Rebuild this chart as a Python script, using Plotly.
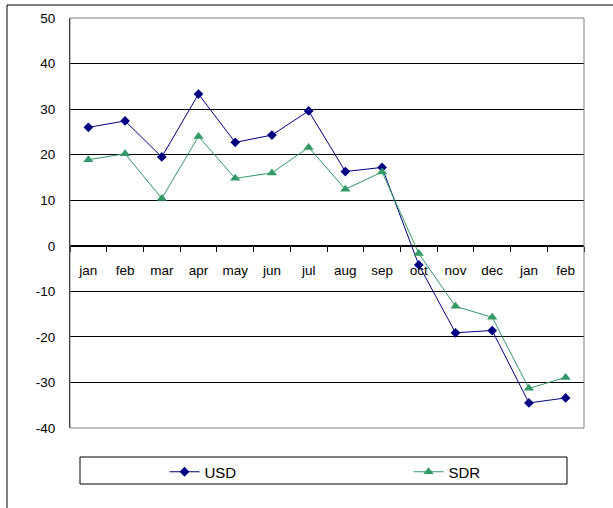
import plotly.graph_objects as go

# Monthly change (%), two reference currencies
months = ["jan", "feb", "mar", "apr", "may", "jun", "jul", "aug", "sep", "oct", "nov", "dec", "jan", "feb"]
usd = [26.0, 27.4, 19.5, 33.3, 22.7, 24.3, 29.6, 16.3, 17.2, -4.2, -19.1, -18.6, -34.5, -33.4]
sdr = [18.9, 20.2, 10.4, 24.0, 14.8, 16.0, 21.6, 12.4, 16.2, -1.7, -13.3, -15.7, -31.3, -28.9]
y_ticks = [-40, -30, -20, -10, 0, 10, 20, 30, 40, 50]
y_tick_labels = ["-40", "-30", "-20", "-10", "0", "10", "20", "30", "40", "50"]

positions = list(range(len(months)))
FONT = "Liberation Sans, Arial, sans-serif"

fig = go.Figure()
fig.add_trace(go.Scatter(
    x=positions, y=usd, name="USD", mode="lines+markers",
    line=dict(color="#000080", width=1),
    marker=dict(symbol="diamond", size=7.5, color="#000080"),
    legend="legend",
))
fig.add_trace(go.Scatter(
    x=positions, y=sdr, name="SDR", mode="lines+markers",
    line=dict(color="#339966", width=1),
    marker=dict(symbol="triangle-up", size=9, color="#339966"),
    legend="legend2",
))

W, H = 613, 508
ml, mr, mt, mb = 70, 29, 18, 80
pw, ph = W - ml - mr, H - mt - mb


def px_x(x):
    return (x - ml) / pw


def px_y(y):
    return (H - mb - y) / ph


fig.update_layout(
    width=W, height=H,
    margin=dict(l=ml, r=mr, t=mt, b=mb),
    paper_bgcolor="white", plot_bgcolor="white",
    font=dict(family=FONT, size=13.5, color="black"),
    showlegend=True,
    xaxis=dict(
        type="category", range=[-0.5, len(months) - 0.5],
        tickvals=positions, ticktext=months,
        tickson="boundaries", ticks="outside", ticklen=5, tickcolor="black",
        ticklabelstandoff=12,
        showline=True, linecolor="black", linewidth=1,
        showgrid=False, zeroline=False,
        anchor="free", position=40 / 90,
    ),
    yaxis=dict(
        range=[-40, 50], tickmode="array", tickvals=y_ticks, ticktext=y_tick_labels,
        ticks="", ticklabelstandoff=11,
        showline=True, linecolor="black", linewidth=1,
        showgrid=True, gridcolor="black", gridwidth=1,
        zeroline=False,
    ),
    legend=dict(
        orientation="h", x=px_x(164.5), xanchor="left", y=px_y(472), yanchor="middle",
        bgcolor="rgba(0,0,0,0)", borderwidth=0, font=dict(size=15),
    ),
    legend2=dict(
        orientation="h", x=px_x(408.5), xanchor="left", y=px_y(472), yanchor="middle",
        bgcolor="rgba(0,0,0,0)", borderwidth=0, font=dict(size=15),
    ),
    shapes=[
        # plot area frame
        dict(type="rect", xref="paper", yref="paper", x0=0, x1=1, y0=0, y1=1,
             line=dict(color="#808080", width=1), layer="above"),
        # legend box
        dict(type="rect", xref="paper", yref="paper",
             x0=px_x(80), x1=px_x(567), y0=px_y(484), y1=px_y(457),
             line=dict(color="black", width=1)),
        # chart area border
        dict(type="rect", xref="paper", yref="paper",
             x0=px_x(7), x1=px_x(640), y0=px_y(540), y1=px_y(5),
             line=dict(color="black", width=1)),
    ],
)

fig.write_html("out.html")
